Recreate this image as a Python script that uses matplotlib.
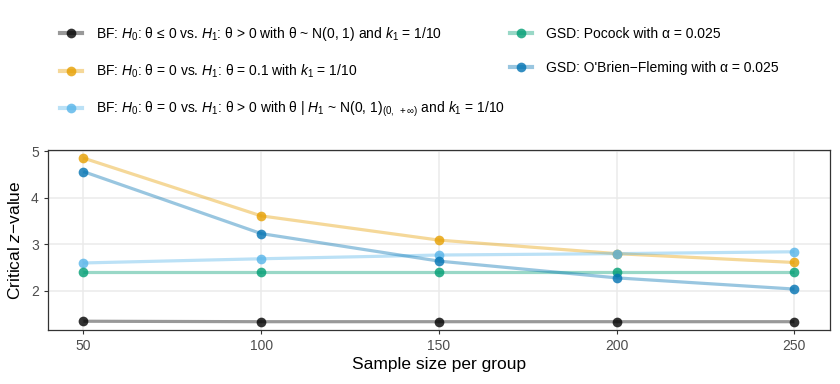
import matplotlib.pyplot as plt
from matplotlib.lines import Line2D
from matplotlib.legend_handler import HandlerTuple

plt.rcParams["font.family"] = ["Liberation Sans", "DejaVu Sans"]
plt.rcParams["mathtext.fontset"] = "custom"
plt.rcParams["mathtext.rm"] = "Liberation Sans"
plt.rcParams["mathtext.it"] = "Liberation Sans:italic"
plt.rcParams["mathtext.bf"] = "Liberation Sans:bold"

n_per_group = [50, 100, 150, 200, 250]

bf_directional = [1.35, 1.34, 1.34, 1.34, 1.34]
bf_point = [4.85, 3.61, 3.09, 2.80, 2.61]
bf_halfnormal = [2.60, 2.69, 2.77, 2.80, 2.84]
gsd_pocock = [2.41, 2.41, 2.41, 2.41, 2.41]
gsd_obf = [4.56, 3.23, 2.64, 2.28, 2.04]

labels = [
    r"BF: $H_0$: θ ≤ 0 vs. $H_1$: θ > 0 with θ ~ N(0, 1) and $k_1$ = 1/10",
    r"BF: $H_0$: θ = 0 vs. $H_1$: θ = 0.1 with $k_1$ = 1/10",
    r"BF: $H_0$: θ = 0 vs. $H_1$: θ > 0 with θ | $H_1$ ~ N(0, 1)$_{(0,\ +\infty)}$ and $k_1$ = 1/10",
    r"GSD: Pocock with α = 0.025",
    r"GSD: O'Brien−Fleming with α = 0.025",
]
series = [bf_directional, bf_point, bf_halfnormal, gsd_pocock, gsd_obf]
colors = ["#000000", "#E69F00", "#56B4E9", "#009E73", "#0072B2"]

fig = plt.figure(figsize=(8.4, 3.84), dpi=100)
ax = fig.add_axes([0.057, 0.141, 0.931, 0.468])

handles = []
for ys, c in zip(series, colors):
    ax.plot(n_per_group, ys, color=c, alpha=0.4, lw=2.3, solid_capstyle="butt", zorder=2)
    ax.plot(n_per_group, ys, ls="none", marker="o", ms=7, color=c, alpha=0.8,
            markeredgewidth=0, zorder=3)
    ln = Line2D([], [], color=c, alpha=0.4, lw=3)
    pt = Line2D([], [], ls="none", marker="o", ms=7, color=c, alpha=0.8, markeredgewidth=0)
    handles.append((ln, pt))

ax.set_xlim(40, 260)
ax.set_ylim(1.165, 5.02)
ax.set_xticks(n_per_group)
ax.set_yticks([2, 3, 4, 5])
ax.grid(True, color="#EBEBEB", lw=1.1)
ax.set_axisbelow(True)
for s in ax.spines.values():
    s.set_color("#333333")
    s.set_linewidth(0.9)
ax.tick_params(colors="#333333", labelcolor="#4D4D4D", labelsize=10, length=3, width=0.8)
ax.set_xlabel("Sample size per group", fontsize=12.5, labelpad=3)
ax.set_ylabel("Critical $z$−value", fontsize=12.5, labelpad=6)

fig.legend(handles, labels, handler_map={tuple: HandlerTuple(ndivide=1)},
           loc="upper left", bbox_to_anchor=(0.056, 0.968), ncol=2, frameon=False,
           fontsize=10, labelspacing=1.42, columnspacing=0.35, handlelength=1.6,
           handletextpad=1.0)

plt.savefig("out.png")
